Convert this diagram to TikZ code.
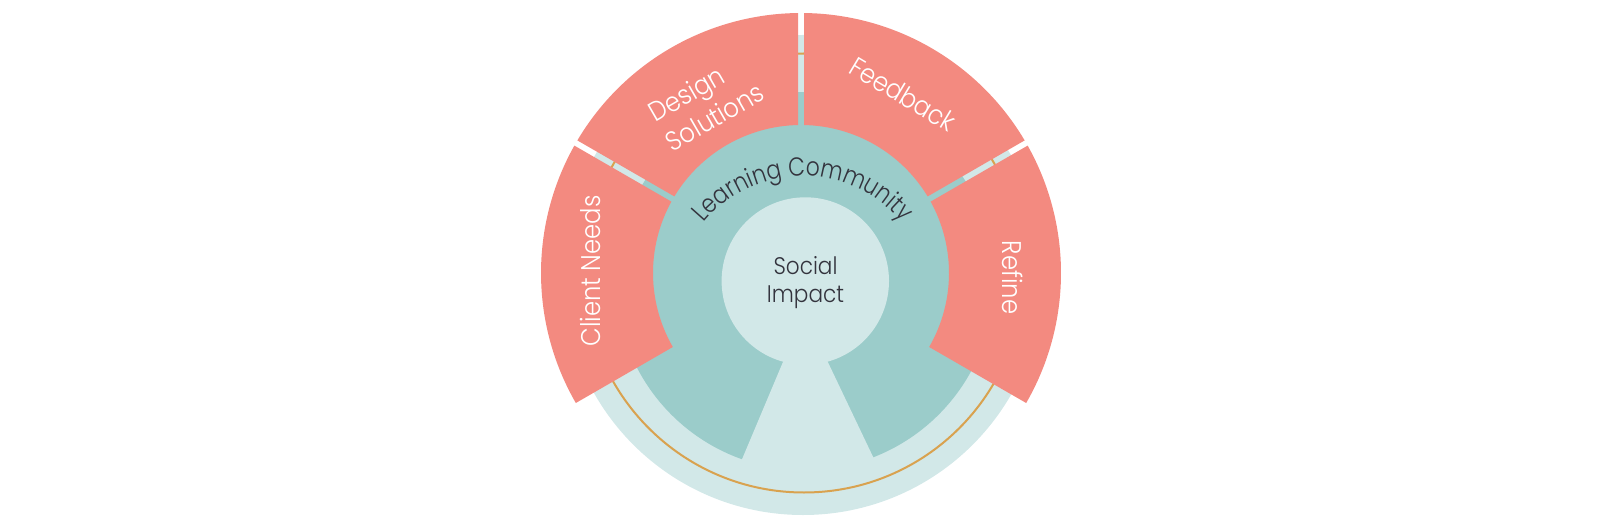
\documentclass[tikz,border=0pt]{standalone}
\usepackage{fontspec}
\setmainfont{Poppins Light}[FakeStretch=0.9]
\newfontfamily\lcfam{Poppins Light}[FakeStretch=0.84]
\usetikzlibrary{decorations.text}
\definecolor{pinkseg}{HTML}{F38A80}
\definecolor{tealdark}{HTML}{9BCCCA}
\definecolor{teallight}{HTML}{D2E8E8}
\definecolor{goldline}{HTML}{D9A24F}
\definecolor{txtdark}{HTML}{33333D}
\newcommand\pinksec[4]{%
  \fill[pinkseg] ({#1+asin(#3/148)}:148) -- ({#1+asin(#3/260)}:260)
    arc[start angle={#1+asin(#3/260)}, end angle={#2-asin(#4/260)}, radius=260]
    -- ({#2-asin(#4/148)}:148)
    arc[start angle={#2-asin(#4/148)}, end angle={#1+asin(#3/148)}, radius=148] -- cycle;}
\newcommand\lcfont{\lcfam\fontsize{26}{30}\selectfont}
\tikzset{
  whitelabel/.style={text=white, font=\fontsize{27}{34}\selectfont, inner sep=0pt},
  centerlabel/.style={text=txtdark, font=\fontsize{24}{28}\selectfont, align=center, inner sep=0pt}
}
\begin{document}
\begin{tikzpicture}[x=1pt,y=1pt]
\useasboundingbox (0,0) rectangle (1602,528);
% outer light ring
\fill[teallight] (803,253) circle[radius=240];
% learning community disc
\fill[tealdark] (805,247) circle[radius=189];
% keyhole wedge
\fill[teallight] (804,216) -- (729.9,40) -- (887.9,40) -- cycle;
% social impact disc
\fill[teallight] (805.3,247) circle[radius=83.7];
% gold circle
\draw[goldline, line width=2] (804,255) circle[radius=219.5];
% pink sectors
\begin{scope}[shift={(801,255)}]
  \pinksec{-30}{30}{0}{3}
  \pinksec{30}{90}{3}{3}
  \pinksec{90}{150}{3}{3}
  \pinksec{150}{210}{3}{0}
\end{scope}
% labels
\node[whitelabel, rotate=90] (client) at (590,257) {Client Needs};
\node[whitelabel, rotate=-90] (refine) at (1013,250.5) {Refine};
\node[whitelabel, rotate=-31] (feedback) at (903,434) {Feedback};
\node[whitelabel, rotate=30, align=left, font=\fontsize{27}{34}\selectfont] (design) at (706,426) {Design\\Solutions};
\node[centerlabel] (social) at (805.5,245.5) {Social\\Impact};
\path[decorate, decoration={text along path, text align=center,
  text={|\lcfont\color{txtdark}|Learning Community}}]
  (803,223) ++(150:129) arc[start angle=150, end angle=30, radius=129];
\end{tikzpicture}
\end{document}
